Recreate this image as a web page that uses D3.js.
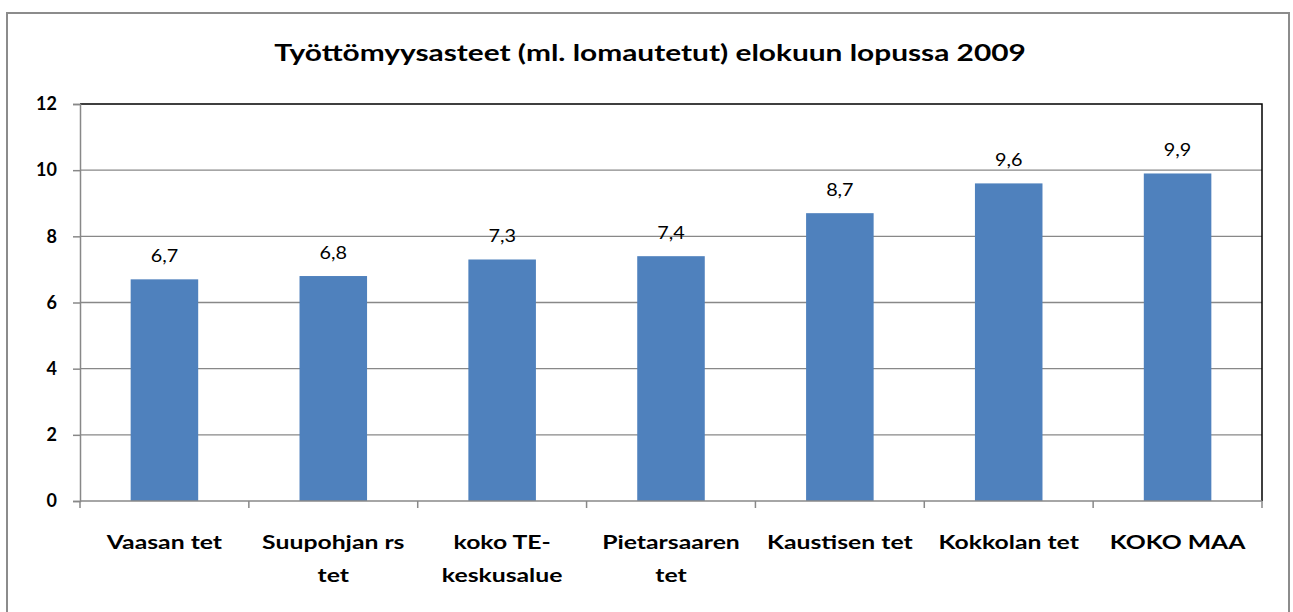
<!DOCTYPE html>
<html>
<head>
<meta charset="utf-8">
<script src="https://cdn.jsdelivr.net/npm/d3@7"></script>
<style>
  body { margin: 0; background: #fff; }
  svg { font-family: Lato, "Open Sans", sans-serif; }
</style>
</head>
<body>
<div id="chart"></div>
<script>
// Työttömyysasteet chart

const categories = [
    ['Vaasan tet'],
    ['Suupohjan rs', 'tet'],
    ['koko TE-', 'keskusalue'],
    ['Pietarsaaren', 'tet'],
    ['Kaustisen tet'],
    ['Kokkolan tet'],
    ['KOKO MAA']
];
const values = [6.7, 6.8, 7.3, 7.4, 8.7, 9.6, 9.9];
const yTicks = [0, 2, 4, 6, 8, 10, 12];
const title = 'Työttömyysasteet (ml. lomautetut) elokuun lopussa 2009';

const W = 1293, H = 612;
const margin = { top: 104, right: 31, bottom: 111, left: 80 };
const width = W - margin.left - margin.right;
const height = H - margin.top - margin.bottom;
// the source picture is a bit stretched horizontally
const stretch = 1.27;

const svg = d3.select('#chart').append('svg')
    .attr('width', W)
    .attr('height', H);

// Outer frame
svg.append('rect')
    .attr('x', 7).attr('y', 13)
    .attr('width', 1282).attr('height', 612)
    .attr('fill', '#fff')
    .attr('stroke', '#8c8c8c')
    .attr('stroke-width', 2);

svg.append('text')
    .attr('transform', `translate(650,61) scale(${stretch},1)`)
    .attr('text-anchor', 'middle')
    .attr('font-size', '23.5px')
    .attr('font-weight', 'bold')
    .attr('fill', '#000')
    .text(title);

const g = svg.append('g')
    .attr('transform', `translate(${margin.left},${margin.top})`);

const idx = d3.range(values.length);
const xScale = d3.scaleBand()
    .domain(idx)
    .range([0, width])
    .paddingInner(0.6)
    .paddingOuter(0.3);

const yScale = d3.scaleLinear()
    .domain([0, 12])
    .range([height, 0]);

// Gridlines
g.selectAll('.grid')
    .data(yTicks.filter(t => t > 0 && t < 12))
    .enter()
    .append('line')
    .attr('x1', 0).attr('x2', width)
    .attr('y1', d => yScale(d)).attr('y2', d => yScale(d))
    .attr('stroke', '#888')
    .attr('stroke-width', 1.3);

// Plot border top/right
g.append('path')
    .attr('d', `M0,${yScale(12)}H${width}V${height}`)
    .attr('fill', 'none')
    .attr('stroke', '#000')
    .attr('stroke-width', 1.5);

// Bars
g.selectAll('.bar')
    .data(values)
    .enter()
    .append('rect')
    .attr('class', 'bar')
    .attr('x', (d, i) => xScale(i))
    .attr('width', xScale.bandwidth())
    .attr('y', d => yScale(d))
    .attr('height', d => height - yScale(d))
    .attr('fill', '#4F81BD');

// Value labels
g.selectAll('.value-label')
    .data(values)
    .enter()
    .append('text')
    .attr('transform', (d, i) => `translate(${xScale(i) + xScale.bandwidth() / 2},${yScale(d) - 17}) scale(1.1,1)`)
    .attr('text-anchor', 'middle')
    .attr('font-size', '18px')
    .attr('fill', '#000')
    .text(d => String(d).replace('.', ','));

// Y axis
const yAxis = g.append('g')
    .call(d3.axisLeft(yScale).tickValues(yTicks).tickSize(7).tickPadding(16));
yAxis.select('.domain').attr('stroke', '#888').attr('stroke-width', 1.5);
yAxis.selectAll('line').attr('stroke', '#888').attr('stroke-width', 1.5);
yAxis.selectAll('text')
    .attr('font-size', '18px')
    .attr('font-weight', 'bold')
    .attr('font-family', 'Lato, sans-serif')
    .attr('fill', '#000');

// X axis with ticks at band boundaries
const boundaries = d3.range(values.length + 1).map(i => i * width / values.length);
g.append('line')
    .attr('x1', 0).attr('x2', width)
    .attr('y1', height).attr('y2', height)
    .attr('stroke', '#888').attr('stroke-width', 1.5);
g.selectAll('.xtick')
    .data(boundaries)
    .enter()
    .append('line')
    .attr('x1', d => d).attr('x2', d => d)
    .attr('y1', height).attr('y2', height + 7)
    .attr('stroke', '#888').attr('stroke-width', 1.5);

const catLabels = g.selectAll('.cat')
    .data(categories)
    .enter()
    .append('text')
    .attr('text-anchor', 'middle')
    .attr('font-size', '19.5px')
    .attr('font-weight', 'bold')
    .attr('fill', '#000')
    .attr('transform', (d, i) => `translate(${xScale(i) + xScale.bandwidth() / 2},${height + 48}) scale(${stretch},1)`);

catLabels.selectAll('tspan')
    .data(d => d)
    .enter()
    .append('tspan')
    .attr('x', 0)
    .attr('dy', (d, i) => i === 0 ? 0 : 33)
    .text(d => d);
</script>
</body>
</html>
